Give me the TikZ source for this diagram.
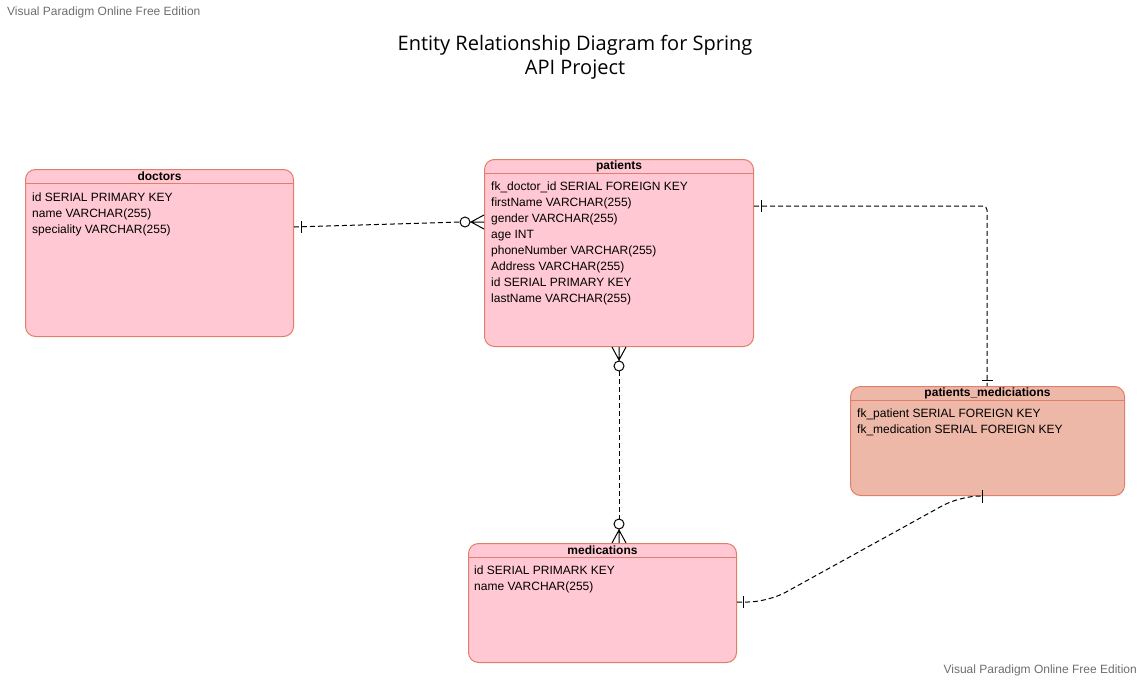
\documentclass[tikz,border=0pt]{standalone}
\usepackage{fontspec}
\setmainfont{Liberation Sans}
\newfontfamily\titlefont{Open Sans}
\usetikzlibrary{positioning,calc}

\definecolor{entitypink}{RGB}{255,200,211}
\definecolor{linkpink}{RGB}{238,184,168}
\definecolor{edgered}{RGB}{224,126,106}
\definecolor{vpgray}{RGB}{110,110,110}

\tikzset{
  entity/.style={draw=edgered, fill=entitypink, line width=1pt, rounded corners=10pt, anchor=north west, inner sep=0pt},
  header/.style={font=\fontsize{12}{14}\selectfont\bfseries, inner sep=0pt},
  row/.style={font=\fontsize{12}{14}\selectfont, anchor=base west, inner sep=0pt},
  watermark/.style={font=\fontsize{12}{14}\selectfont, text=vpgray, inner sep=0pt},
  relation/.style={line width=1pt, dash pattern=on 5pt off 3pt},
  marker/.style={line width=1pt},
}

\begin{document}
\begin{tikzpicture}[x=1pt,y=-1pt]
    \useasboundingbox (0,0) rectangle (1142,680);

    % Watermarks
    \node[watermark, anchor=west] (wm top) at (7,12) {Visual Paradigm Online Free Edition};
    \node[watermark, anchor=east] (wm bottom) at (1137,670) {Visual Paradigm Online Free Edition};

    % Title
    \node[font=\titlefont\fontsize{20}{24}\selectfont, align=center, inner sep=0pt] (title) at (575,57) {Entity Relationship Diagram for Spring\\API Project};

    % Doctors table
    \node[entity, minimum width=268pt, minimum height=167pt] (doctors) at (25,169) {};
    \draw[edgered, line width=1pt] ([yshift=-14pt]doctors.north west) -- ([yshift=-14pt]doctors.north east);
    \node[header] (doctors title) at ([yshift=-7pt]doctors.north) {doctors};
    \foreach \txt [count=\i] in {id SERIAL PRIMARY KEY, name VARCHAR(255), speciality VARCHAR(255)}
        \node[row] (doctors row\i) at (32,185+16*\i) {\txt};

    % Patients table
    \node[entity, minimum width=269pt, minimum height=187pt] (patients) at (484,159) {};
    \draw[edgered, line width=1pt] ([yshift=-14pt]patients.north west) -- ([yshift=-14pt]patients.north east);
    \node[header] (patients title) at ([yshift=-7pt]patients.north) {patients};
    \foreach \txt [count=\i] in {fk\_doctor\_id SERIAL FOREIGN KEY, firstName VARCHAR(255), gender VARCHAR(255), age INT, phoneNumber VARCHAR(255), Address VARCHAR(255), id SERIAL PRIMARY KEY, lastName VARCHAR(255)}
        \node[row] (patients row\i) at (491,174+16*\i) {\txt};

    % Join table
    \node[entity, fill=linkpink, minimum width=274pt, minimum height=109pt] (links) at (850,386) {};
    \draw[edgered, line width=1pt] ([yshift=-14pt]links.north west) -- ([yshift=-14pt]links.north east);
    \node[header] (links title) at ([yshift=-7pt]links.north) {patients\_mediciations};
    \foreach \txt [count=\i] in {fk\_patient SERIAL FOREIGN KEY, fk\_medication SERIAL FOREIGN KEY}
        \node[row] (links row\i) at (857,401+16*\i) {\txt};

    % Medications table
    \node[entity, minimum width=268pt, minimum height=119pt] (medications) at (468,543) {};
    \draw[edgered, line width=1pt] ([yshift=-14pt]medications.north west) -- ([yshift=-14pt]medications.north east);
    \node[header] (medications title) at ([yshift=-7pt]medications.north) {medications};
    \foreach \txt [count=\i] in {id SERIAL PRIMARK KEY, name VARCHAR(255)}
        \node[row] (medications row\i) at (474,558+16*\i) {\txt};

    % Doctors -- patients (one to many)
    \coordinate (dp start) at ($(doctors.north east)+(0,58)$);
    \coordinate (dp end) at ($(patients.north west)+(0,63)$);
    \draw[relation] (dp start) -- ($(dp end)+(-24,0)$);
    \draw[marker] ($(dp start)+(7,-6)$) -- ($(dp start)+(7,6)$);
    \draw[marker] ($(dp end)+(-13,0)$) -- ($(dp end)+(0,-7)$)
                  ($(dp end)+(-13,0)$) -- ($(dp end)+(0,7)$)
                  ($(dp end)+(-14,0)$) -- (dp end);
    \draw[marker, fill=white] ($(dp end)+(-19,0)$) circle (5pt);

    % Patients -- join table
    \coordinate (pl start) at ($(patients.north east)+(0,47)$);
    \coordinate (pl end) at ($(links.north west)+(137,0)$);
    \draw[relation, rounded corners=4pt] (pl start) -| (pl end);
    \draw[marker] ($(pl start)+(7,-6)$) -- ($(pl start)+(7,6)$);
    \draw[marker] ($(pl end)+(-5,-6)$) -- ($(pl end)+(6,-6)$);

    % Patients -- medications (many to many)
    \coordinate (pm start) at ($(patients.south west)+(135,0)$);
    \coordinate (pm end) at ($(medications.north west)+(151,0)$);
    \draw[relation] ($(pm start)+(0,24)$) -- ($(pm end)+(0,-24)$);
    \draw[marker] ($(pm start)+(0,13)$) -- ($(pm start)+(-7,0)$)
                  ($(pm start)+(0,13)$) -- ($(pm start)+(7,0)$)
                  ($(pm start)+(0,14)$) -- (pm start);
    \draw[marker] ($(pm end)+(0,-13)$) -- ($(pm end)+(-7,0)$)
                  ($(pm end)+(0,-13)$) -- ($(pm end)+(7,0)$)
                  ($(pm end)+(0,-14)$) -- (pm end);
    \draw[marker, fill=white] ($(pm start)+(0,19)$) circle (5pt);
    \draw[marker, fill=white] ($(pm end)+(0,-19)$) circle (5pt);

    % Medications -- join table
    \coordinate (ml start) at ($(medications.north east)+(0,59)$);
    \coordinate (ml end) at ($(links.south west)+(132,0)$);
    \draw[relation, rounded corners=20pt] (ml start) -- ++(31,0) -- ($(ml end)+(-22,0)$) -- (ml end);
    \draw[marker] ($(ml start)+(6,-6)$) -- ($(ml start)+(6,6)$);
    \draw[marker] ($(ml end)+(0,-6)$) -- ($(ml end)+(0,7)$);
\end{tikzpicture}
\end{document}
